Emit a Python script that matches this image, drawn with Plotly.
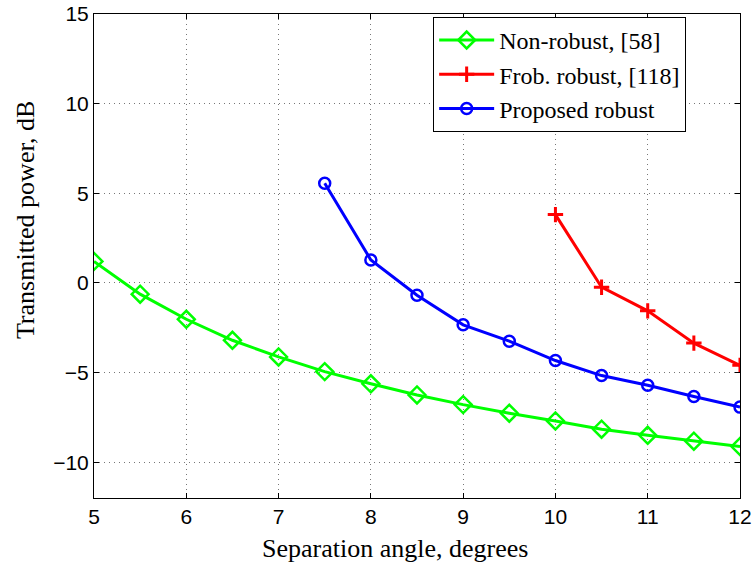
import plotly.graph_objects as go

x_non = [5, 5.5, 6, 6.5, 7, 7.5, 8, 8.5, 9, 9.5, 10, 10.5, 11, 11.5, 12]
y_non = [1.2, -0.63, -2.03, -3.2, -4.13, -4.95, -5.63, -6.25, -6.79, -7.27, -7.7, -8.16, -8.5, -8.83, -9.13]

x_frob = [10, 10.5, 11, 11.5, 12]
y_frob = [3.81, -0.24, -1.56, -3.36, -4.6]

x_prop = [7.5, 8, 8.5, 9, 9.5, 10, 10.5, 11, 11.5, 12]
y_prop = [5.56, 1.28, -0.69, -2.34, -3.25, -4.33, -5.17, -5.71, -6.34, -6.93]

x_ticks = [5, 6, 7, 8, 9, 10, 11, 12]
y_ticks = [-10, -5, 0, 5, 10, 15]

x_title = "Separation angle, degrees"
y_title = "Transmitted power, dB"

serif = "Liberation Serif, Times New Roman, serif"
sans = "Liberation Sans, Arial, sans-serif"

fig = go.Figure()
fig.add_trace(go.Scatter(x=x_non, y=y_non, mode="lines+markers", name="Non-robust, [58]",
                         line=dict(color="#00ff00", width=3),
                         marker=dict(symbol="diamond-open", size=13, line=dict(width=2.5, color="#00ff00"))))
fig.add_trace(go.Scatter(x=x_frob, y=y_frob, mode="lines+markers", name="Frob. robust, [118]",
                         line=dict(color="#ff0000", width=3),
                         marker=dict(symbol="cross-thin-open", size=11, line=dict(width=3, color="#ff0000"))))
fig.add_trace(go.Scatter(x=x_prop, y=y_prop, mode="lines+markers", name="Proposed robust",
                         line=dict(color="#0000ff", width=3),
                         marker=dict(symbol="circle-open", size=11, line=dict(width=2.5, color="#0000ff"))))

axis_common = dict(showline=True, linecolor="black", linewidth=1, mirror="allticks",
                   ticks="inside", ticklen=5, tickcolor="black", automargin=False,
                   showgrid=True, gridcolor="#777777", griddash="1px,4px", gridwidth=1,
                   zeroline=False, tickfont=dict(family=sans, size=21, color="black"))

fig.update_xaxes(range=[5, 12], tickvals=x_ticks, **axis_common)
fig.update_yaxes(range=[-12, 15], tickvals=y_ticks,
                 ticktext=[("\u2212" + str(-v)) if v < 0 else str(v) for v in y_ticks], **axis_common)

fig.add_annotation(text=x_title, xref="paper", yref="paper", x=0.466, y=-0.104,
                   xanchor="center", yanchor="middle", showarrow=False,
                   font=dict(family=serif, size=26, color="black"))
fig.add_annotation(text=y_title, xref="paper", yref="paper", x=-0.107, y=0.576,
                   xanchor="center", yanchor="middle", showarrow=False, textangle=-90,
                   font=dict(family=serif, size=26, color="black"))

fig.update_layout(
    width=754, height=565,
    margin=dict(l=94, r=14, t=14, b=67),
    plot_bgcolor="white", paper_bgcolor="white",
    legend=dict(x=0.525, y=0.994, xanchor="left", yanchor="top",
                bgcolor="white", bordercolor="black", borderwidth=1,
                font=dict(family=serif, size=24, color="black"),
                tracegroupgap=0, itemwidth=55),
)

fig.write_html("out.html")
